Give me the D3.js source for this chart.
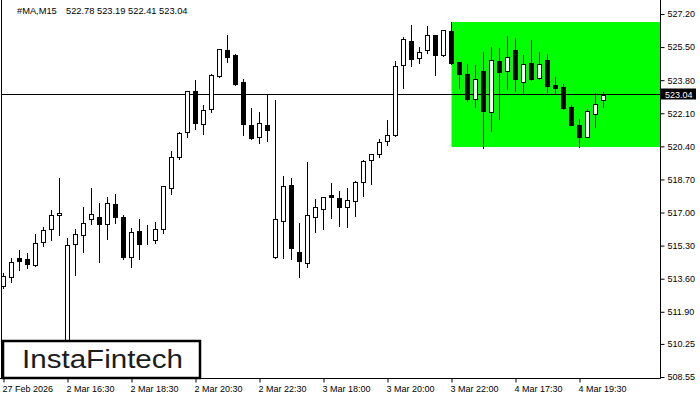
<!DOCTYPE html>
<html><head><meta charset="utf-8">
<script src="https://cdn.jsdelivr.net/npm/d3@7"></script>
<style>
html,body{margin:0;padding:0;background:#fff;}
svg{display:block;}
text{font-family:"Liberation Sans",Arial,sans-serif;}
</style></head>
<body>
<svg id="chart" width="700" height="400"></svg>
<script>
const symbolTitle = "#MA,M15";
const headerValues = "522.78 523.19 522.41 523.04";
const opens  = [513.22,513.67,514.65,514.59,514.29,515.47,516.14,516.86,508.85,515.37,515.83,516.65,516.78,516.39,517.42,516.75,514.70,516.05,515.60,515.59,516.14,518.24,519.87,521.12,523.23,521.56,522.33,524.00,525.35,525.09,523.69,521.50,520.86,521.50,514.69,516.55,518.40,514.95,514.42,516.78,517.16,517.90,517.73,517.27,517.58,518.55,519.68,520.01,520.66,520.97,524.56,525.80,524.94,525.35,526.11,525.09,526.31,524.72,524.10,522.82,524.26,522.19,524.79,524.29,525.35,523.72,524.68,523.93,524.84,523.55,523.45,522.42,521.50,520.90,522.08,522.78];
const highs  = [513.89,514.68,515.07,514.90,515.90,516.27,517.13,518.79,515.67,516.15,517.30,518.24,517.47,517.78,517.94,516.87,516.19,516.65,516.36,516.51,518.38,520.16,521.14,523.25,523.81,522.52,524.12,525.42,526.12,525.12,523.86,522.35,522.15,523.07,522.78,518.88,518.77,516.45,519.61,517.69,517.80,518.50,518.10,518.27,518.63,519.70,520.02,520.76,521.75,524.77,526.00,526.64,525.52,526.58,526.14,526.40,526.81,524.75,524.63,524.58,525.23,525.49,525.44,526.07,525.95,525.09,525.86,525.23,525.14,523.96,523.60,522.51,521.80,522.30,523.12,523.19];
const lows   = [513.12,513.44,514.05,514.16,514.25,515.29,515.59,515.83,508.62,513.79,514.99,516.39,514.47,515.64,516.45,514.60,514.21,514.61,515.37,515.42,515.93,517.94,519.76,520.90,521.28,521.02,522.18,523.96,524.75,523.55,521.00,520.76,520.59,520.69,514.65,514.65,514.60,513.70,514.18,516.01,516.14,516.70,516.32,516.27,516.84,517.86,518.48,519.84,520.48,520.94,523.41,524.54,524.70,525.21,524.08,525.05,524.64,523.41,522.71,522.44,520.34,521.20,521.82,523.35,523.26,523.16,523.81,523.86,523.21,523.09,522.33,521.48,520.38,520.87,521.41,522.41];
const closes = [513.74,514.44,514.52,514.34,515.42,516.09,516.86,516.97,515.31,515.90,516.45,516.91,516.39,517.50,516.78,514.73,515.98,515.37,515.59,516.14,518.35,519.84,521.07,523.23,521.61,522.25,524.07,525.39,525.01,523.60,521.56,520.84,521.58,521.22,516.65,518.35,515.19,514.52,516.86,517.27,517.78,517.81,517.27,517.63,518.55,519.66,519.99,520.61,520.96,524.51,525.90,524.87,525.26,526.11,525.08,526.36,524.67,524.10,522.82,523.88,522.24,524.82,524.24,524.99,523.86,524.63,523.86,524.63,523.52,523.41,522.37,521.51,520.90,522.22,522.56,523.04];
const xTickIndex  = [0,8,16,24,32,40,48,56,64,72];
const xTickLabels = ["27 Feb 2026","2 Mar 16:30","2 Mar 18:30","2 Mar 20:30","2 Mar 22:30","3 Mar 18:00","3 Mar 20:00","3 Mar 22:00","4 Mar 17:30","4 Mar 19:30"];
const yTickValues = [527.20,525.50,523.80,522.10,520.40,518.70,517.00,515.30,513.60,511.90,510.25,508.55];
const currentPrice = 523.04;
const zoneStartIndex = 56;
const zoneTop = 526.79;
const zoneBottom = 520.37;
const brand = "InstaFintech";

const svg = d3.select("#chart");
const L = 1, R = 660, T = 0, B = 378;
const n = opens.length;
const x = d3.scaleLinear().domain([0, n - 1]).range([3.5, 3.5 + 8 * (n - 1)]);
const y = d3.scaleLinear().domain([508.55, 527.20]).range([377, 14]);
const py = v => Math.round(y(v)) + 0.5;

svg.append("defs").append("clipPath").attr("id","plot")
  .append("rect").attr("x", L + 1).attr("y", T).attr("width", R - L - 1).attr("height", B - T);

const plot = svg.append("g").attr("clip-path","url(#plot)");

// green zone
plot.append("rect")
  .attr("x", Math.round(x(zoneStartIndex)) - 0.5)
  .attr("y", Math.round(y(zoneTop)))
  .attr("width", R - Math.round(x(zoneStartIndex)) + 0.5)
  .attr("height", Math.round(y(zoneBottom)) - Math.round(y(zoneTop)))
  .attr("fill", "#00ff00");

// current price line
plot.append("line")
  .attr("x1", L).attr("x2", R)
  .attr("y1", py(currentPrice) - 1).attr("y2", py(currentPrice) - 1)
  .attr("stroke", "#000").attr("stroke-width", 1);

// candles
const idx = d3.range(n);
const cg = plot.append("g");
cg.selectAll("line.wick").data(idx).join("line")
  .attr("class","wick")
  .attr("x1", i => x(i)).attr("x2", i => x(i))
  .attr("y1", i => Math.round(y(highs[i]))).attr("y2", i => Math.round(y(lows[i])) + 1)
  .attr("stroke", "#000").attr("stroke-width", 1);
cg.selectAll("rect.body").data(idx).join("rect")
  .attr("class","body")
  .attr("x", i => x(i) - 2)
  .attr("y", i => py(Math.max(opens[i], closes[i])))
  .attr("width", 4)
  .attr("height", i => Math.max(0, py(Math.min(opens[i], closes[i])) - py(Math.max(opens[i], closes[i]))))
  .attr("fill", i => closes[i] >= opens[i] ? "#fff" : "#000")
  .attr("stroke", "#000").attr("stroke-width", 1);

// borders / axes
svg.append("line").attr("x1", L + 0.5).attr("x2", L + 0.5).attr("y1", T).attr("y2", B).attr("stroke","#000");

const yAxis = d3.axisRight(y).tickValues(yTickValues).tickSize(4).tickPadding(3)
  .tickFormat(d => d.toFixed(2));
const yg = svg.append("g").attr("transform", `translate(${R + 0.5},0)`).call(yAxis);
yg.select(".domain").attr("d", `M0,${T}V${B + 0.5}`);
yg.selectAll(".tick line").attr("stroke","#000");
yg.selectAll(".tick text").attr("font-size", 9).attr("font-family",'"Liberation Sans",Arial,sans-serif').attr("fill","#000");

const xAxis = d3.axisBottom(x).tickValues(xTickIndex).tickSize(4).tickPadding(3)
  .tickFormat((d, k) => xTickLabels[k]);
const xg = svg.append("g").attr("transform", `translate(0,${B + 0.5})`).call(xAxis);
xg.select(".domain").attr("d", `M0,0H${R + 0.5}`);
xg.selectAll(".tick line").attr("stroke","#000");
xg.selectAll(".tick text").attr("font-size", 9).attr("text-anchor","start")
  .attr("dx", -1.5).attr("font-family",'"Liberation Sans",Arial,sans-serif').attr("fill","#000");

// current price label
const cpY = py(currentPrice) - 1;
svg.append("rect").attr("x", R + 1).attr("y", cpY - 6).attr("width", 35).attr("height", 11).attr("fill","#000");
svg.append("text").attr("x", R + 5).attr("y", cpY + 3.5).attr("font-size", 9).attr("fill","#fff").text(currentPrice.toFixed(2));

// header
svg.append("text").attr("x", 17).attr("y", 14).attr("font-size", 9.3).attr("fill","#000").text(symbolTitle);
svg.append("text").attr("x", 66).attr("y", 14).attr("font-size", 9.3).attr("fill","#000").attr("xml:space","preserve").text(headerValues);

// brand box
svg.append("rect").attr("x", 3).attr("y", 341).attr("width", 197).attr("height", 37)
  .attr("fill","#fff").attr("stroke","#000").attr("stroke-width", 2.5);
svg.append("text").attr("x", 22).attr("y", 368).attr("font-size", 25)
  .attr("font-family",'"Open Sans",sans-serif').attr("font-weight", 500).attr("fill","#1c1c1c")
  .attr("textLength", 161).attr("lengthAdjust","spacingAndGlyphs").text(brand);
</script>
</body></html>
